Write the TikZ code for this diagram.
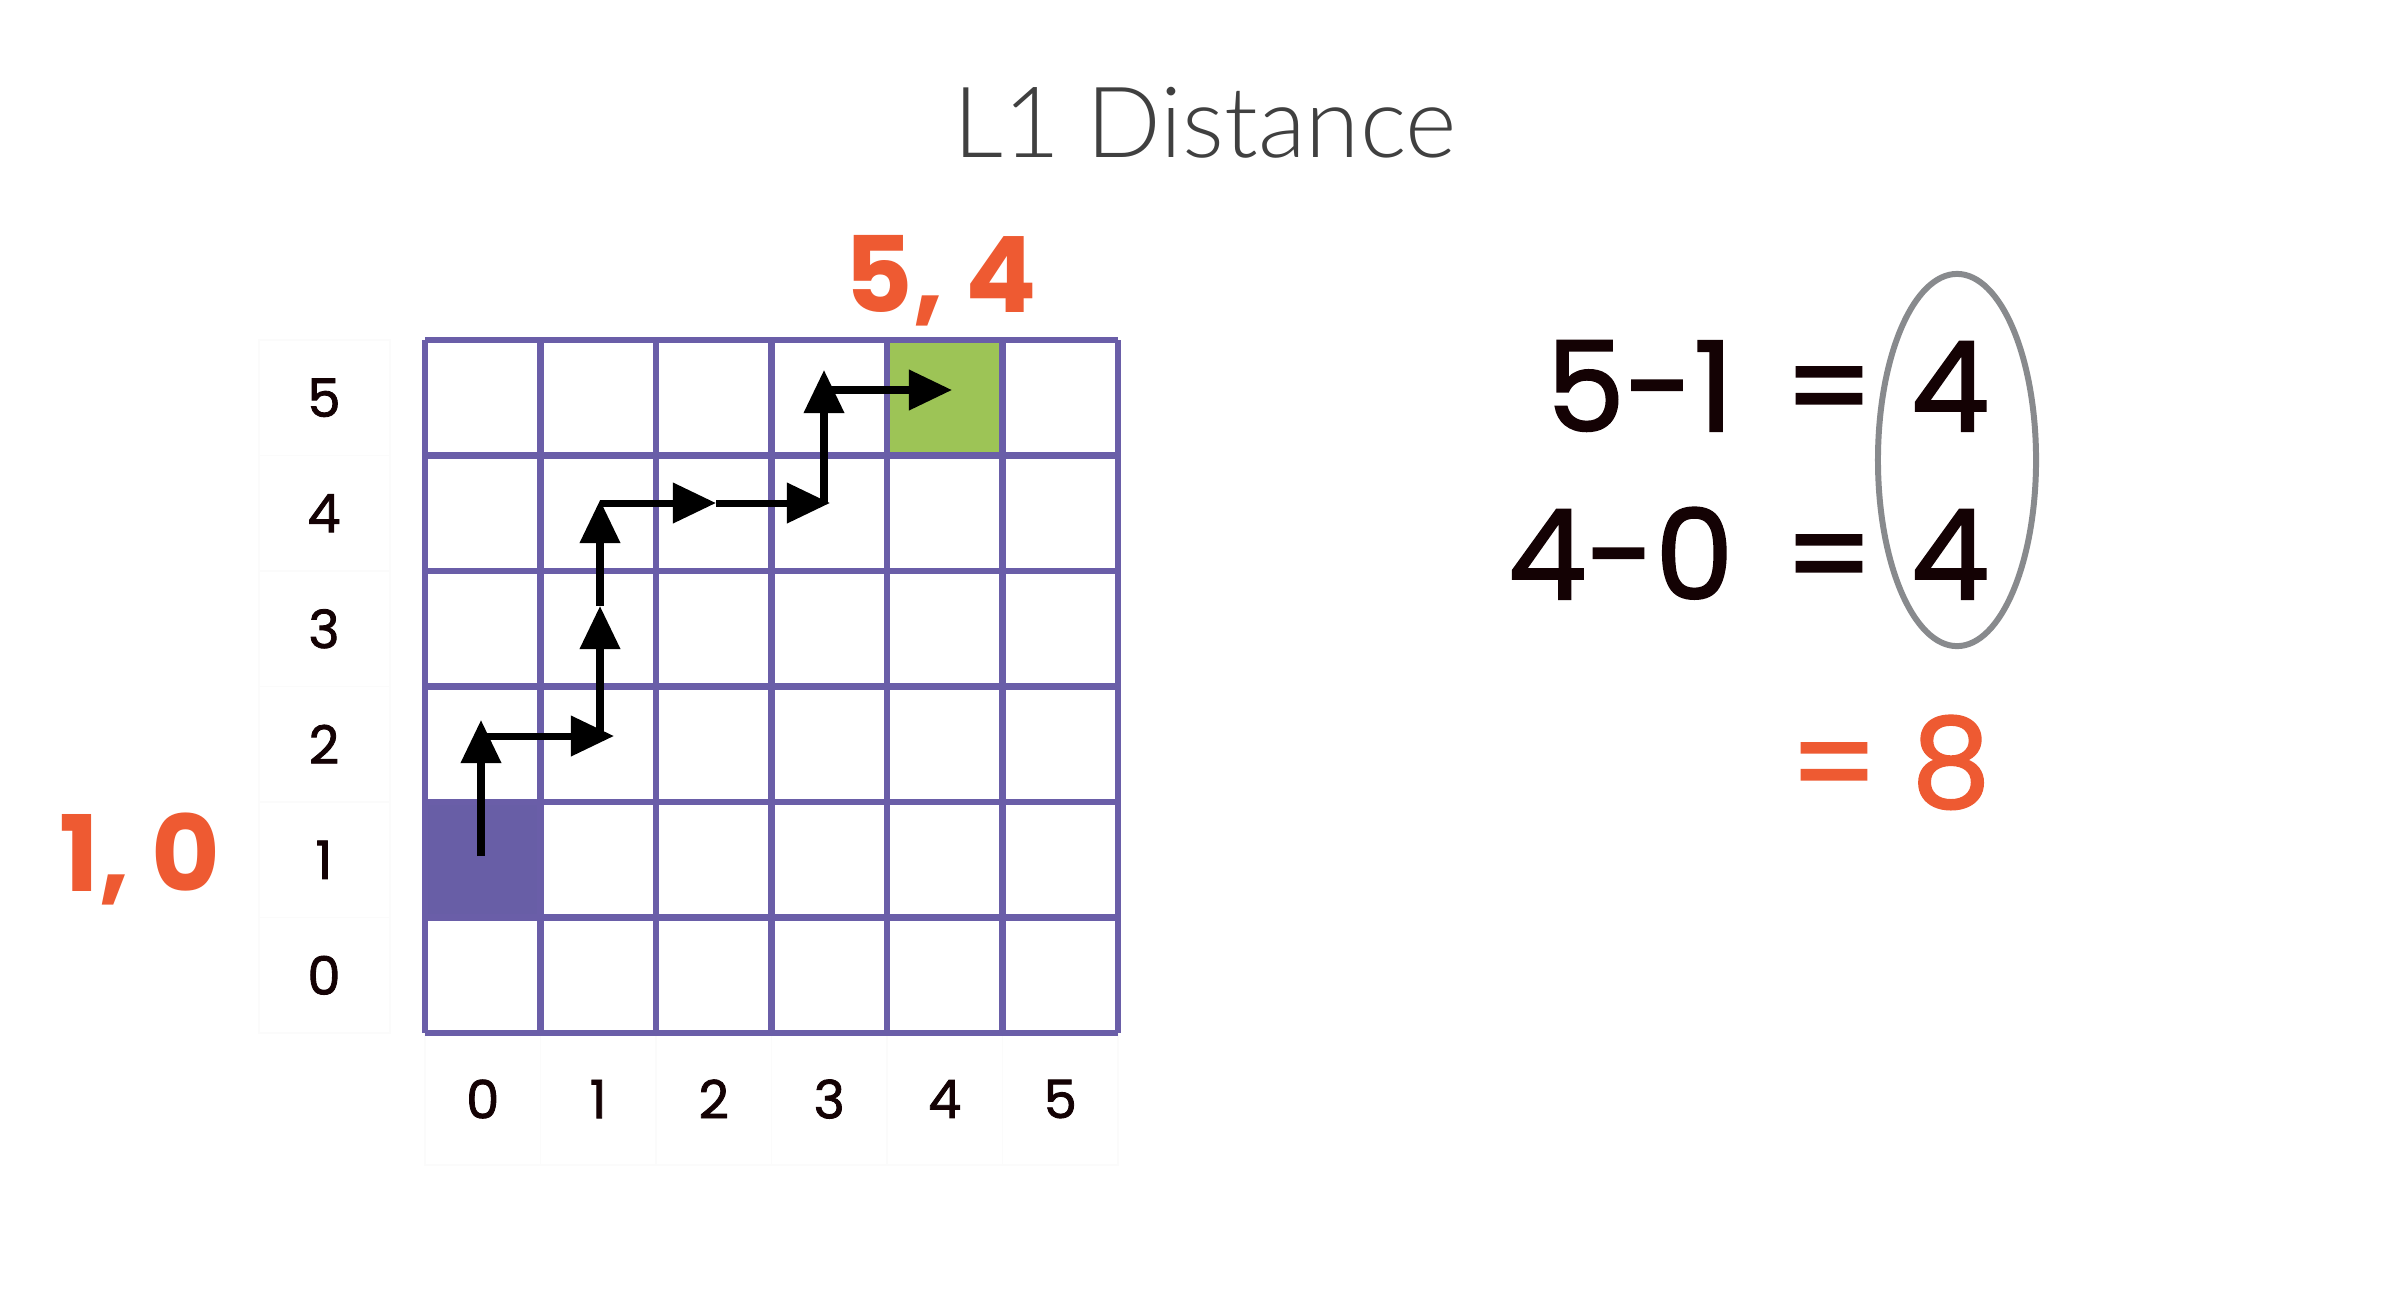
\documentclass[tikz,border=0pt]{standalone}
\usepackage{fontspec}
\setmainfont{Poppins}
\newfontfamily\medfont{Poppins}[FakeBold=1.6]
\newfontfamily\titlefont{Lato Light}
\usetikzlibrary{arrows.meta,shapes.geometric}
\definecolor{gridpurple}{RGB}{106,94,168}
\definecolor{cellpurple}{RGB}{104,94,166}
\definecolor{cellgreen}{RGB}{157,196,86}
\definecolor{orangered}{RGB}{238,90,50}
\definecolor{inkblack}{RGB}{20,2,4}
\definecolor{titlegray}{RGB}{64,64,64}
\definecolor{ellgray}{RGB}{136,138,141}
\begin{document}
\begin{tikzpicture}[x=0.01cm,y=-0.01cm,
  gridline/.style={draw=gridpurple, line width=1.8pt},
  faintbox/.style={draw=black!1.5, line width=0.4pt},
  axislbl/.style={font=\medfont\fontsize{15}{18}\selectfont, text=inkblack},
  coordlbl/.style={font=\fontsize{30}{36}\selectfont\bfseries, text=orangered, anchor=base},
  eqtxt/.style={font=\medfont\fontsize{35.5}{42}\selectfont, text=inkblack, anchor=base},
  titletxt/.style={font=\titlefont\fontsize{28}{33}\selectfont, text=titlegray, anchor=base},
  stepline/.style={line width=2pt, -{Triangle[length=4.3mm,width=3.9mm]}},
]
\useasboundingbox (0,0) rectangle (2388,1308);
\fill[white] (0,0) rectangle (2388,1308);

% faint label boxes
\foreach \i in {0,...,5} {
  \draw[faintbox] (259,{340+115.5*\i}) rectangle (390,{340+115.5*(\i+1)});
  \draw[faintbox] ({425+115.5*\i},1033) rectangle ({425+115.5*(\i+1)},1165);
}

% filled cells
\fill[cellpurple] (425,803) rectangle (540.5,918.5);
\fill[cellgreen] (887,340) rectangle (1002.5,455.5);

% grid
\foreach \i in {0,...,6} {
  \draw[gridline] ({425+115.5*\i},340) -- ({425+115.5*\i},1033);
  \draw[gridline] (425,{340+115.5*\i}) -- (1118,{340+115.5*\i});
}

% axis labels
\foreach \v [count=\k from 0] in {5,4,3,2,1,0} {
  \node[axislbl] (row\v) at (324,{397.75+115.5*\k}) {\v};
}
\foreach \v in {0,...,5} {
  \node[axislbl] (col\v) at ({482.75+115.5*\v},1099) {\v};
}

% path coordinates
\coordinate (a0) at (481,856);
\coordinate (a1) at (481,720);
\coordinate (b0) at (481,736);
\coordinate (b1) at (614,736);
\coordinate (c0) at (600,736);
\coordinate (c1) at (600,606);
\coordinate (c2) at (600,500);
\coordinate (d0) at (600,503);
\coordinate (d1) at (716,503);
\coordinate (d2) at (830,503);
\coordinate (e0) at (824,503);
\coordinate (e1) at (824,370);
\coordinate (f0) at (824,390);
\coordinate (f1) at (952,390);

\draw[stepline] (a0) -- (a1);
\draw[stepline] (b0) -- (b1);
\draw[stepline] (c0) -- (c1);
\draw[stepline] (c1) -- (c2);
\draw[stepline] (d0) -- (d1);
\draw[stepline] (d1) -- (d2);
\draw[stepline] (e0) -- (e1);
\draw[stepline] (f0) -- (f1);

% texts
\node[titletxt] (title) at (1205,157) {L1 Distance};
\node[coordlbl] (goal) at (941,312) {5, 4};
\node[coordlbl] (start) at (140,891) {1, 0};

\node[eqtxt, anchor=base east] (m1) at (1746,431) {5-1};
\node[eqtxt] (eqa) at (1829,431) {=};
\node[eqtxt] (r1) at (1950,431) {4};
\node[eqtxt, anchor=base east] (m2) at (1746,599) {4-0};
\node[eqtxt] (eqb) at (1829,599) {=};
\node[eqtxt] (r2) at (1950,599) {4};
\node[eqtxt, text=orangered] (eqc) at (1834,807) {=};
\node[eqtxt, text=orangered] (sum) at (1951,807) {8};

\node[draw=ellgray, line width=1.7pt, ellipse, inner sep=0pt,
      minimum width=1.58cm, minimum height=3.72cm] (ring) at (1957,460) {};
\end{tikzpicture}
\end{document}
